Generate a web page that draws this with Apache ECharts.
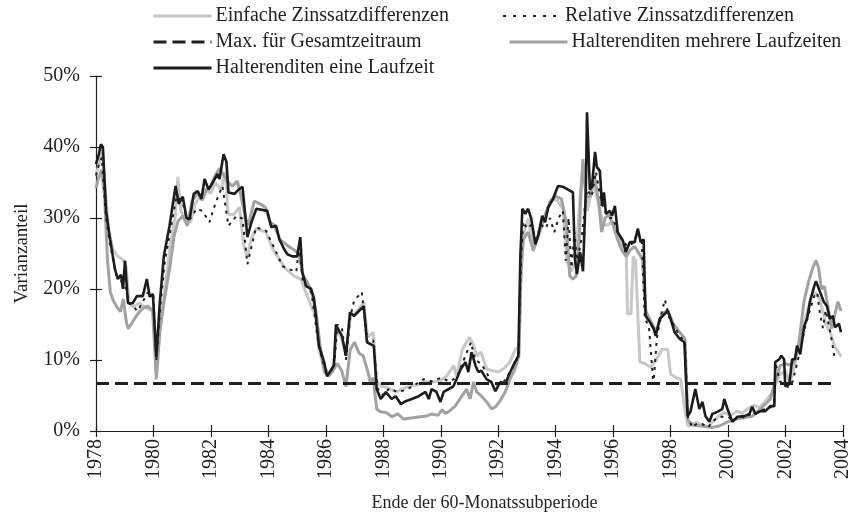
<!DOCTYPE html>
<html>
<head>
<meta charset="utf-8">
<script src="https://cdn.jsdelivr.net/npm/echarts@6/dist/echarts.min.js"></script>
<style>
  html, body { margin: 0; padding: 0; background: #fff; }
  #main { width: 853px; height: 519px; }
</style>
</head>
<body>
<div id="main"></div>
<script>
// Varianzanteil je Ende der 60-Monatssubperiode, [Jahr, Prozent]
const yearTicks = [1978, 1980, 1982, 1984, 1986, 1988, 1990, 1992, 1994, 1996, 1998, 2000, 2002, 2004];

const einfache = [
  [1978.00, 36], [1978.10, 37.5], [1978.22, 39.5], [1978.32, 34], [1978.45, 28], [1978.60, 25.5],
  [1978.76, 24.6], [1978.92, 24.2], [1979.05, 23.2], [1979.15, 18], [1979.30, 17.5], [1979.50, 18],
  [1979.70, 17.5], [1979.90, 17], [1980.00, 17], [1980.10, 8], [1980.22, 14], [1980.40, 20],
  [1980.58, 26], [1980.75, 30], [1980.85, 35.8], [1980.95, 31], [1981.15, 29.5], [1981.30, 29.5],
  [1981.45, 32], [1981.62, 33], [1981.80, 34], [1982.00, 33.5], [1982.15, 35], [1982.35, 34],
  [1982.50, 36.5], [1982.60, 30.5], [1982.80, 30.5], [1982.99, 31.5], [1983.15, 26], [1983.27, 24.5],
  [1983.40, 27], [1983.57, 28.5], [1983.92, 28], [1984.15, 25.6], [1984.38, 24.2], [1984.61, 22.8],
  [1984.90, 21.8], [1985.13, 21.4], [1985.30, 19.6], [1985.53, 17.2], [1985.65, 16.2], [1985.76, 11.5],
  [1985.94, 8.7], [1986.11, 7.7], [1986.28, 9.7], [1986.38, 14.4], [1986.55, 13], [1986.70, 10.6],
  [1986.85, 16.2], [1987.00, 16.5], [1987.15, 17.2], [1987.32, 18.2], [1987.45, 13.2], [1987.65, 13.9],
  [1987.77, 6.9], [1987.95, 6.3], [1988.20, 6], [1988.45, 5.5], [1988.70, 6], [1988.95, 6.3],
  [1989.20, 6.5], [1989.45, 6.9], [1989.70, 6.9], [1989.95, 7], [1990.20, 7.7], [1990.45, 9.2],
  [1990.55, 7.7], [1990.75, 11.5], [1991.00, 13.2], [1991.15, 12], [1991.25, 10.6], [1991.40, 11.1],
  [1991.60, 8.7], [1991.80, 8.5], [1992.00, 8.3], [1992.20, 8.8], [1992.40, 9.7], [1992.60, 11.5],
  [1992.72, 11.8], [1992.80, 24], [1992.90, 28], [1993.04, 29.9], [1993.22, 26], [1993.45, 28],
  [1993.62, 30.3], [1993.85, 32.7], [1994.05, 32.5], [1994.25, 31.3], [1994.40, 23.8], [1994.55, 22.5],
  [1994.70, 24], [1994.85, 33], [1994.97, 37], [1995.10, 31], [1995.30, 35], [1995.50, 32],
  [1995.65, 29], [1995.80, 29], [1996.00, 29.5], [1996.20, 27], [1996.35, 26], [1996.45, 26],
  [1996.50, 16.5], [1996.62, 16.5], [1996.70, 24.6], [1996.78, 24], [1996.93, 9.7], [1997.10, 9.5],
  [1997.30, 9], [1997.50, 10], [1997.70, 11.5], [1997.90, 11.5], [1998.00, 8], [1998.20, 7.5],
  [1998.35, 7.3], [1998.50, 3], [1998.60, 0.7], [1998.90, 1.2], [1999.10, 0.8], [1999.30, 0.6],
  [1999.45, 1.2], [1999.65, 2], [1999.85, 2.6], [2000.10, 2.2], [2000.30, 2.8], [2000.50, 2.5],
  [2000.70, 3.2], [2000.90, 3.6], [2001.10, 3.3], [2001.30, 4.2], [2001.50, 5.2], [2001.65, 6.5],
  [2001.80, 8], [2002.00, 8.5], [2002.15, 6.8], [2002.30, 9], [2002.50, 13], [2002.70, 16],
  [2002.90, 19], [2003.05, 19.5], [2003.20, 18.5], [2003.40, 15], [2003.55, 14], [2003.70, 12],
  [2003.85, 11], [2003.95, 10.5]
];

const relativ = [
  [1978.00, 36], [1978.10, 37.5], [1978.20, 38.5], [1978.35, 30], [1978.50, 26], [1978.70, 22],
  [1978.90, 21], [1979.05, 20], [1979.15, 18], [1979.30, 17.5], [1979.45, 16.9], [1979.60, 18],
  [1979.80, 19.5], [1980.00, 19], [1980.10, 10], [1980.25, 18], [1980.40, 24], [1980.60, 28.5],
  [1980.80, 33], [1981.00, 32.5], [1981.15, 30], [1981.30, 30], [1981.50, 31.3], [1981.70, 31],
  [1981.95, 29.4], [1982.15, 32], [1982.40, 34.5], [1982.61, 28.9], [1982.89, 30.3], [1983.10, 29.9],
  [1983.27, 23.5], [1983.57, 28.7], [1983.92, 28.2], [1984.27, 25.2], [1984.49, 23.2], [1984.72, 22.8],
  [1984.97, 22.4], [1985.07, 26], [1985.20, 21], [1985.50, 19.5], [1985.75, 12], [1985.95, 9],
  [1986.10, 8], [1986.30, 9.5], [1986.40, 15], [1986.56, 14.6], [1986.70, 10], [1986.85, 16],
  [1986.98, 18.3], [1987.25, 19.6], [1987.45, 12.5], [1987.65, 12.8], [1987.80, 6], [1988.00, 5],
  [1988.20, 6], [1988.50, 5.5], [1988.80, 5.8], [1989.10, 6.5], [1989.40, 7.3], [1989.70, 7],
  [1990.00, 7.5], [1990.30, 7], [1990.55, 7.5], [1990.80, 10], [1991.05, 12.5], [1991.20, 10],
  [1991.40, 9.5], [1991.60, 8.2], [1991.80, 6.5], [1992.00, 6.6], [1992.20, 7], [1992.45, 8.5],
  [1992.70, 10.5], [1992.80, 25], [1992.87, 29.5], [1993.00, 28.5], [1993.15, 29], [1993.30, 27],
  [1993.50, 29], [1993.65, 28.5], [1993.80, 30], [1993.95, 28], [1994.10, 30], [1994.25, 31],
  [1994.35, 24], [1994.45, 30], [1994.55, 23], [1994.65, 28], [1994.75, 24], [1994.90, 27],
  [1995.00, 31], [1995.10, 34], [1995.25, 33], [1995.40, 36.5], [1995.55, 33], [1995.70, 31],
  [1995.85, 30], [1996.00, 30], [1996.15, 28], [1996.30, 27], [1996.50, 26], [1996.70, 26.5],
  [1996.85, 28], [1997.00, 26.5], [1997.10, 16], [1997.25, 14.5], [1997.40, 6.5], [1997.52, 13],
  [1997.65, 16], [1997.80, 18.5], [1997.95, 16], [1998.10, 15], [1998.30, 13.5], [1998.50, 12.5],
  [1998.60, 2], [1998.75, 0.5], [1998.90, 1], [1999.10, 1], [1999.30, 0.5], [1999.50, 1.5],
  [1999.70, 2], [2000.00, 2], [2000.20, 1.5], [2000.40, 2.2], [2000.60, 1.8], [2000.80, 2.5],
  [2001.00, 2.5], [2001.20, 3], [2001.45, 3.2], [2001.60, 3.8], [2001.66, 9.5], [2001.80, 7],
  [2001.95, 6.5], [2002.10, 6.2], [2002.25, 7], [2002.40, 9.5], [2002.55, 12], [2002.70, 15],
  [2002.85, 17], [2003.00, 19], [2003.10, 19.5], [2003.20, 16.5], [2003.30, 14.5], [2003.40, 17],
  [2003.55, 14], [2003.62, 12.5], [2003.70, 10.4]
];

const mehrere = [
  [1978.00, 34.2], [1978.08, 35.5], [1978.20, 36.8], [1978.30, 33], [1978.40, 24], [1978.50, 19.5],
  [1978.60, 18.4], [1978.72, 17.5], [1978.85, 16.8], [1978.95, 18.6], [1979.05, 15.5], [1979.12, 14.4],
  [1979.25, 15.2], [1979.40, 16.2], [1979.60, 17.2], [1979.80, 17.6], [1979.97, 17], [1980.10, 7.3],
  [1980.22, 14], [1980.38, 18.5], [1980.56, 22.8], [1980.72, 27.5], [1980.85, 29.5], [1981.02, 30.3],
  [1981.18, 28.9], [1981.35, 32.5], [1981.55, 33.5], [1981.70, 32.5], [1981.85, 34], [1982.00, 34.5],
  [1982.15, 36], [1982.30, 37], [1982.45, 36], [1982.60, 35], [1982.75, 34.5], [1982.92, 35.2],
  [1983.05, 33], [1983.20, 30], [1983.30, 29], [1983.51, 32.4], [1983.70, 32], [1983.90, 31.5],
  [1984.05, 29.5], [1984.20, 29], [1984.40, 27], [1984.55, 26.5], [1984.70, 26], [1984.90, 25.5],
  [1985.05, 25], [1985.20, 22], [1985.35, 21], [1985.50, 19.6], [1985.65, 17], [1985.80, 12],
  [1985.95, 8.3], [1986.10, 7.8], [1986.25, 8.5], [1986.40, 9.5], [1986.55, 8.5], [1986.70, 6.3],
  [1986.85, 11.5], [1987.00, 12.5], [1987.15, 11], [1987.30, 10.6], [1987.45, 8.5], [1987.55, 6.9],
  [1987.65, 7.5], [1987.77, 3.1], [1987.90, 2.7], [1988.10, 2.6], [1988.30, 2], [1988.50, 2.4],
  [1988.70, 1.7], [1988.90, 1.8], [1989.10, 1.9], [1989.30, 2], [1989.50, 2.1], [1989.70, 2.4],
  [1989.90, 2.2], [1990.05, 3], [1990.15, 2.5], [1990.27, 2.7], [1990.50, 3.5], [1990.73, 4.9],
  [1990.90, 5.9], [1991.02, 4.5], [1991.14, 6.9], [1991.25, 5.5], [1991.42, 4.9], [1991.60, 4.1],
  [1991.77, 3.1], [1991.90, 3.4], [1992.06, 4.2], [1992.24, 5.5], [1992.41, 7.3], [1992.58, 8.7],
  [1992.72, 10.6], [1992.79, 21.8], [1992.87, 27], [1993.04, 28], [1993.22, 25.4], [1993.39, 27.5],
  [1993.62, 30.3], [1993.80, 32.2], [1993.97, 33.1], [1994.20, 32.7], [1994.37, 29.4], [1994.49, 21.8],
  [1994.60, 21.4], [1994.71, 21.8], [1994.82, 27], [1994.88, 34], [1994.95, 38.3], [1995.05, 33],
  [1995.20, 33], [1995.35, 36], [1995.50, 32], [1995.60, 28], [1995.72, 30], [1995.85, 30.5],
  [1996.00, 29], [1996.15, 27], [1996.30, 25.5], [1996.45, 24.6], [1996.60, 25.5], [1996.75, 26],
  [1996.90, 25], [1997.02, 24.2], [1997.13, 17], [1997.30, 15.5], [1997.50, 14], [1997.70, 16.5],
  [1997.90, 17], [1998.10, 15], [1998.30, 14], [1998.50, 13], [1998.60, 1.5], [1998.80, 0.8],
  [1999.10, 0.7], [1999.42, 0.5], [1999.70, 0.7], [2000.00, 1.3], [2000.30, 1.7], [2000.60, 1.9],
  [2000.85, 2.1], [2001.12, 3.1], [2001.30, 3.8], [2001.47, 4.5], [2001.64, 6.9], [2001.81, 9.2],
  [2002.00, 9.5], [2002.15, 9.3], [2002.30, 9.7], [2002.47, 12.5], [2002.64, 18.2], [2002.80, 21],
  [2002.95, 23], [2003.06, 24], [2003.15, 23], [2003.25, 20], [2003.35, 20.4], [2003.50, 17],
  [2003.60, 14.4], [2003.72, 16.5], [2003.82, 18.2], [2003.93, 16.9]
];

const eine = [
  [1978.00, 37.6], [1978.10, 39], [1978.17, 40.4], [1978.24, 40], [1978.35, 31], [1978.49, 27],
  [1978.66, 22.8], [1978.76, 21.4], [1978.87, 22], [1978.94, 20], [1979.01, 24], [1979.11, 18],
  [1979.28, 18], [1979.42, 19], [1979.63, 19], [1979.77, 21.4], [1979.87, 18.9], [1979.98, 19.3],
  [1980.10, 10.4], [1980.22, 18], [1980.36, 24.6], [1980.56, 28.9], [1980.77, 34.5], [1980.88, 32],
  [1981.02, 33], [1981.15, 30], [1981.26, 29.8], [1981.40, 33.4], [1981.54, 33.8], [1981.67, 32.7],
  [1981.78, 35.5], [1981.92, 34], [1982.06, 35], [1982.23, 36.2], [1982.30, 35.5], [1982.44, 39],
  [1982.54, 37.9], [1982.61, 33.6], [1982.82, 33.4], [1982.96, 34], [1983.10, 34.4], [1983.27, 27.3],
  [1983.41, 29.4], [1983.58, 31.3], [1983.96, 31], [1984.10, 28.7], [1984.27, 28.9], [1984.38, 27],
  [1984.55, 25.6], [1984.66, 24.9], [1984.83, 24.6], [1985.00, 24.6], [1985.11, 27.3], [1985.18, 22.4],
  [1985.31, 20.4], [1985.49, 20], [1985.59, 18.6], [1985.76, 12], [1985.94, 9.7], [1986.04, 7.7],
  [1986.28, 9.2], [1986.35, 15], [1986.42, 14.4], [1986.56, 13.4], [1986.70, 10.6], [1986.84, 16.7],
  [1986.98, 16.2], [1987.15, 16.9], [1987.32, 17.6], [1987.43, 12.5], [1987.67, 12], [1987.77, 5.9],
  [1987.91, 4.5], [1988.09, 5.5], [1988.29, 4.5], [1988.43, 4.9], [1988.61, 3.8], [1988.78, 4.2],
  [1988.99, 4.5], [1989.23, 4.9], [1989.47, 5.5], [1989.58, 4.5], [1989.68, 5.9], [1989.85, 5.5],
  [1989.99, 4.1], [1990.10, 5.5], [1990.27, 5.9], [1990.44, 6.3], [1990.55, 7.3], [1990.69, 8.7],
  [1990.86, 9.7], [1990.96, 8.3], [1991.07, 11.1], [1991.21, 9.2], [1991.31, 8.3], [1991.41, 8.5],
  [1991.59, 7.3], [1991.76, 6.9], [1991.90, 5.6], [1992.07, 6.9], [1992.25, 6.6], [1992.35, 7.7],
  [1992.52, 9.2], [1992.70, 10.6], [1992.77, 24.6], [1992.84, 31.3], [1992.94, 30.6], [1993.04, 31.3],
  [1993.15, 29.9], [1993.29, 26.3], [1993.39, 27.5], [1993.53, 30.3], [1993.63, 29.4], [1993.74, 31.5],
  [1993.91, 32.7], [1994.08, 34.5], [1994.26, 34.4], [1994.43, 34], [1994.60, 33.6], [1994.67, 24.2],
  [1994.74, 22.1], [1994.85, 25.2], [1994.95, 22.5], [1995.05, 34], [1995.09, 44.9], [1995.19, 34],
  [1995.26, 34.4], [1995.37, 39.3], [1995.43, 37.2], [1995.54, 36.6], [1995.61, 31.7], [1995.68, 33.6],
  [1995.75, 30.6], [1995.89, 31], [1995.96, 30.3], [1996.06, 31.7], [1996.16, 28], [1996.34, 26.8],
  [1996.44, 25.2], [1996.58, 26.6], [1996.75, 26.6], [1996.86, 28.5], [1996.96, 26.6], [1997.06, 27],
  [1997.13, 16.2], [1997.27, 15.4], [1997.41, 14.4], [1997.48, 13.4], [1997.62, 15.8], [1997.72, 16.2],
  [1997.90, 16.9], [1998.00, 15.8], [1998.14, 13.9], [1998.31, 13], [1998.48, 12.5], [1998.59, 2.1],
  [1998.69, 2.7], [1998.86, 5.9], [1999.00, 3.1], [1999.11, 4.1], [1999.21, 2.1], [1999.35, 1.3],
  [1999.45, 2.4], [1999.63, 2.7], [1999.80, 3.1], [1999.87, 4.5], [1999.98, 3.1], [2000.15, 1.3],
  [2000.32, 2], [2000.57, 2.1], [2000.74, 2.4], [2000.84, 3.4], [2000.95, 2.4], [2001.12, 2.8],
  [2001.30, 2.8], [2001.47, 3.5], [2001.61, 3.5], [2001.64, 9.7], [2001.78, 10.1], [2001.85, 10.6],
  [2001.95, 10.1], [2001.99, 6.3], [2002.13, 6.6], [2002.23, 10.1], [2002.33, 10.1], [2002.40, 12],
  [2002.51, 10.8], [2002.65, 14.8], [2002.75, 15.8], [2002.85, 18.2], [2002.99, 20.3], [2003.06, 21.1],
  [2003.20, 19.6], [2003.33, 18.2], [2003.44, 17.6], [2003.54, 15.8], [2003.65, 16.2], [2003.72, 14.6],
  [2003.86, 15.1], [2003.93, 13.9]
];

// Maximum fuer den Gesamtzeitraum
const maxGesamt = 6.7;
const maxSpan = [1978, 2003.7];

const FONT = 'Liberation Serif';
const TXT = '#231f20';

const chart = echarts.init(document.getElementById('main'), null, { renderer: 'canvas' });

function legendAt(name, left, top, width, type) {
  return {
    data: [name],
    left: left,
    top: top,
    orient: 'horizontal',
    selectedMode: false,
    itemWidth: 58,
    itemHeight: 14,
    itemGap: 0,
    padding: 0,
    itemStyle: { opacity: 0 },
    lineStyle: { width: width, type: type },
    textStyle: { fontFamily: FONT, fontSize: 20, color: TXT, padding: [0, 0, 0, -1] }
  };
}

const option = {
  animation: false,
  backgroundColor: '#fff',
  textStyle: { fontFamily: FONT },
  legend: [
    legendAt('Einfache Zinssatzdifferenzen', 152, 6, 3, 'solid'),
    legendAt('Max. für Gesamtzeitraum', 152, 32, 3, [13, 6]),
    legendAt('Halterenditen eine Laufzeit', 152, 58, 3, 'solid'),
    legendAt('Relative Zinssatzdifferenzen', 502, 6, 2, [3, 7]),
    legendAt('Halterenditen mehrere Laufzeiten', 508, 32, 3, 'solid')
  ],
  grid: { left: 96, right: 8, top: 76, bottom: 88 },
  xAxis: [{
    type: 'value',
    min: 1978, max: 2004, interval: 2,
    name: 'Ende der 60-Monatssubperiode',
    nameLocation: 'middle',
    nameGap: 63,
    nameTextStyle: { fontFamily: FONT, fontSize: 18, color: TXT, padding: [0, 0, 0, 30] },
    axisLine: { lineStyle: { color: '#231f20', width: 1.2 } },
    axisTick: { show: true, length: 6, lineStyle: { color: '#231f20', width: 1.2 } },
    axisLabel: {
      rotate: 90, margin: 8, fontFamily: FONT, fontSize: 20, color: TXT,
      formatter: v => yearTicks.includes(v) ? String(v) : ''
    },
    splitLine: { show: false }
  }, {
    type: 'value',
    position: 'bottom',
    min: 1978, max: 2004, interval: 2,
    axisLine: { show: false },
    axisTick: { show: true, inside: true, length: 6, lineStyle: { color: '#231f20', width: 1.2 } },
    axisLabel: { show: false },
    splitLine: { show: false }
  }],
  yAxis: [{
    type: 'value',
    min: 0, max: 50, interval: 10,
    name: 'Varianzanteil',
    nameLocation: 'middle',
    nameGap: 64,
    nameTextStyle: { fontFamily: FONT, fontSize: 19, color: TXT },
    axisLine: { show: true, lineStyle: { color: '#231f20', width: 1.2 } },
    axisTick: { show: true, length: 6, lineStyle: { color: '#231f20', width: 1.2 } },
    axisLabel: { margin: 16, fontFamily: FONT, fontSize: 20, color: TXT, formatter: '{value}%' },
    splitLine: { show: false }
  }, {
    type: 'value',
    position: 'left',
    min: 0, max: 50, interval: 10,
    axisLine: { show: false },
    axisTick: { show: true, inside: true, length: 6, lineStyle: { color: '#231f20', width: 1.2 } },
    axisLabel: { show: false },
    splitLine: { show: false }
  }],
  series: [
    {
      name: 'Einfache Zinssatzdifferenzen',
      type: 'line', symbol: 'none',
      data: einfache,
      lineStyle: { color: '#c8c8c8', width: 3 },
      itemStyle: { color: '#c8c8c8' }
    },
    {
      name: 'Halterenditen mehrere Laufzeiten',
      type: 'line', symbol: 'none',
      data: mehrere,
      lineStyle: { color: '#a2a2a2', width: 3 },
      itemStyle: { color: '#a2a2a2' }
    },
    {
      name: 'Relative Zinssatzdifferenzen',
      type: 'line', symbol: 'none',
      data: relativ,
      lineStyle: { color: '#231f20', width: 2, type: [3, 5] },
      itemStyle: { color: '#231f20' }
    },
    {
      name: 'Max. für Gesamtzeitraum',
      type: 'line', symbol: 'none',
      data: maxSpan.map(y => [y, maxGesamt]),
      lineStyle: { color: '#231f20', width: 3, type: [13, 6] },
      itemStyle: { color: '#231f20' }
    },
    {
      name: 'Halterenditen eine Laufzeit',
      type: 'line', symbol: 'none',
      data: eine,
      lineStyle: { color: '#1e1b1c', width: 2.6 },
      itemStyle: { color: '#1e1b1c' }
    }
  ]
};

chart.setOption(option);
</script>
</body>
</html>
